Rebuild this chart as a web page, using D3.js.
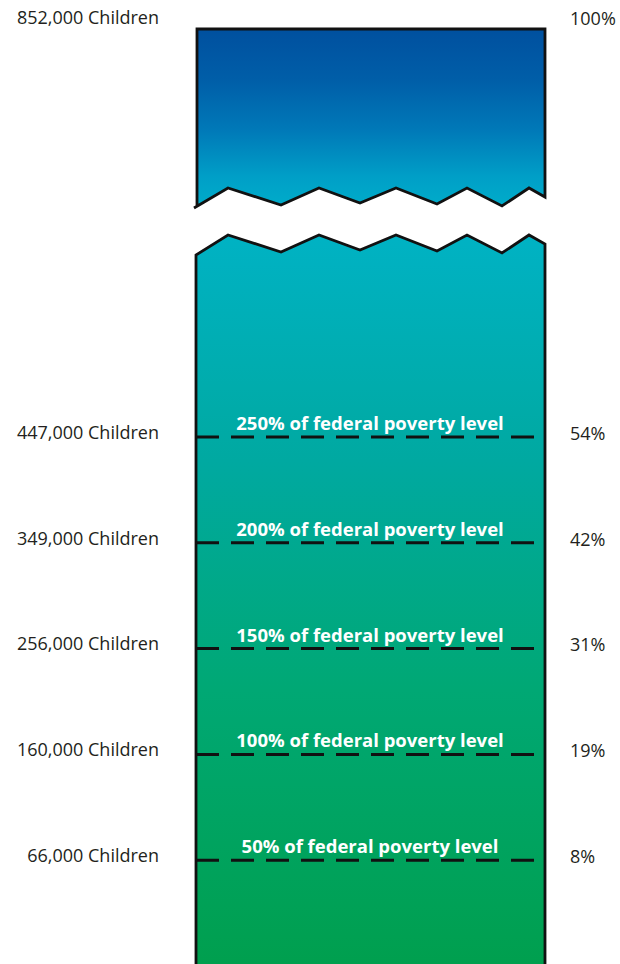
<!DOCTYPE html>
<html>
<head>
<meta charset="utf-8">
<script src="https://cdn.jsdelivr.net/npm/d3@7/dist/d3.min.js"></script>
<style>
  html, body { margin: 0; padding: 0; background: #fff; }
  svg { display: block; }
</style>
</head>
<body>
<svg id="chart" width="620" height="964"></svg>
<script>
// Income thresholds as a share of the federal poverty level
const fplLevels = [50, 100, 150, 200, 250];
const fplLabels = ["50% of federal poverty level", "100% of federal poverty level",
  "150% of federal poverty level", "200% of federal poverty level", "250% of federal poverty level"];
// Children living below each threshold
const childrenBelow = [66000, 160000, 256000, 349000, 447000];
const shareBelow = [8, 19, 31, 42, 54];
// All children (top of the bar)
const totalChildren = 852000;
const totalShare = 100;

const svg = d3.select("#chart");
const W = 620, H = 964;
const barLeft = 196, barRight = 545, barTop = 29;

// Vertical scale on the poverty-level axis (0% sits at the foot of the bar)
const y = d3.scaleLinear().domain([0, 250]).range([966, 437]);

const fmt = d3.format(",");
const fontBody = "'Open Sans', sans-serif";

// Gradient from deep blue at the top to green at the foot
const defs = svg.append("defs");
const grad = defs.append("linearGradient")
  .attr("id", "barFill")
  .attr("gradientUnits", "userSpaceOnUse")
  .attr("x1", 0).attr("x2", 0).attr("y1", barTop).attr("y2", 966);
const stops = [
  [29, "#00509f"], [80, "#005ea8"], [130, "#0079b8"], [177, "#009fc7"], [208, "#00adca"],
  [240, "#00b2c3"], [460, "#00a9a1"], [690, "#00a874"], [966, "#009f4e"]
];
stops.forEach(([yy, c]) => grad.append("stop")
  .attr("offset", ((yy - barTop) / (966 - barTop)).toFixed(4))
  .attr("stop-color", c));

// Zig-zag break shared by both pieces of the bar
const zigX = [barLeft - 2, 228, 281, 319, 360, 396, 437, 467, 502, 529, barRight];
const zigDy = [20, 0, 17, 0, 15, 0, 16, 0, 18, 0, 9];
const breakTopY = 188, breakGap = 47;

const upperPts = [[barLeft + 1, barTop], [barRight, barTop]]
  .concat(zigX.slice().reverse().map((x, i) => [x, breakTopY + zigDy[zigDy.length - 1 - i]]));
upperPts.push([barLeft + 1, breakTopY + 18]);
svg.append("path")
  .attr("d", "M" + upperPts.map(p => p.join(",")).join("L") + "Z")
  .attr("fill", "url(#barFill)")
  .attr("stroke", "none");
// outline of upper piece
const upperOutline = [[barLeft + 1, breakTopY + 18], [barLeft + 1, barTop], [barRight, barTop], [barRight, breakTopY + zigDy[10]]]
  .concat(zigX.slice().reverse().map((x, i) => [x, breakTopY + zigDy[zigDy.length - 1 - i]]));
svg.append("path")
  .attr("d", "M" + upperOutline.map(p => p.join(",")).join("L"))
  .attr("fill", "none").attr("stroke", "#111").attr("stroke-width", 2.8)
  .attr("stroke-linejoin", "miter");

// lower piece
const lowerTop = zigX.map((x, i) => [x, breakTopY + breakGap + zigDy[i]]);
const lowerPts = [[barLeft, H + 5], [barLeft, breakTopY + breakGap + 20]]
  .concat(lowerTop.slice(1)).concat([[barRight, H + 5]]);
svg.append("path")
  .attr("d", "M" + lowerPts.map(p => p.join(",")).join("L") + "Z")
  .attr("fill", "url(#barFill)").attr("stroke", "none");
svg.append("path")
  .attr("d", "M" + lowerPts.map(p => p.join(",")).join("L"))
  .attr("fill", "none").attr("stroke", "#111").attr("stroke-width", 2.8);

// Threshold lines and labels
const rows = fplLevels.map((v, i) => ({
  fpl: v, label: fplLabels[i], children: childrenBelow[i], share: shareBelow[i]
}));

const g = svg.append("g");
g.selectAll("line.level").data(rows).join("line")
  .attr("class", "level")
  .attr("x1", barLeft).attr("x2", barRight - 8)
  .attr("y1", d => y(d.fpl)).attr("y2", d => y(d.fpl))
  .attr("stroke", "#111").attr("stroke-width", 3)
  .attr("stroke-dasharray", "23,12");

g.selectAll("text.fpl").data(rows).join("text")
  .attr("class", "fpl")
  .attr("x", 370).attr("y", d => y(d.fpl) - 7)
  .attr("text-anchor", "middle")
  .attr("fill", "#fff")
  .attr("font-family", fontBody)
  .attr("font-weight", 700)
  .attr("font-size", 18.5)
  .text(d => d.label);

g.selectAll("text.children").data(rows).join("text")
  .attr("class", "children")
  .attr("x", 159).attr("y", d => y(d.fpl) - 3)
  .attr("text-anchor", "end").attr("dominant-baseline", "middle")
  .attr("fill", "#231f20").attr("font-family", fontBody).attr("font-size", 18)
  .text(d => fmt(d.children) + " Children");

g.selectAll("text.share").data(rows).join("text")
  .attr("class", "share")
  .attr("x", 570).attr("y", d => y(d.fpl) - 2)
  .attr("text-anchor", "start").attr("dominant-baseline", "middle")
  .attr("fill", "#231f20").attr("font-family", fontBody).attr("font-size", 18)
  .text(d => d.share + "%");

// Totals at the top of the bar
svg.append("text")
  .attr("x", 159).attr("y", 19)
  .attr("text-anchor", "end").attr("dominant-baseline", "middle")
  .attr("fill", "#231f20").attr("font-family", fontBody).attr("font-size", 18)
  .text(fmt(totalChildren) + " Children");
svg.append("text")
  .attr("x", 570).attr("y", 20)
  .attr("text-anchor", "start").attr("dominant-baseline", "middle")
  .attr("fill", "#231f20").attr("font-family", fontBody).attr("font-size", 18)
  .text(totalShare + "%");
</script>
</body>
</html>
